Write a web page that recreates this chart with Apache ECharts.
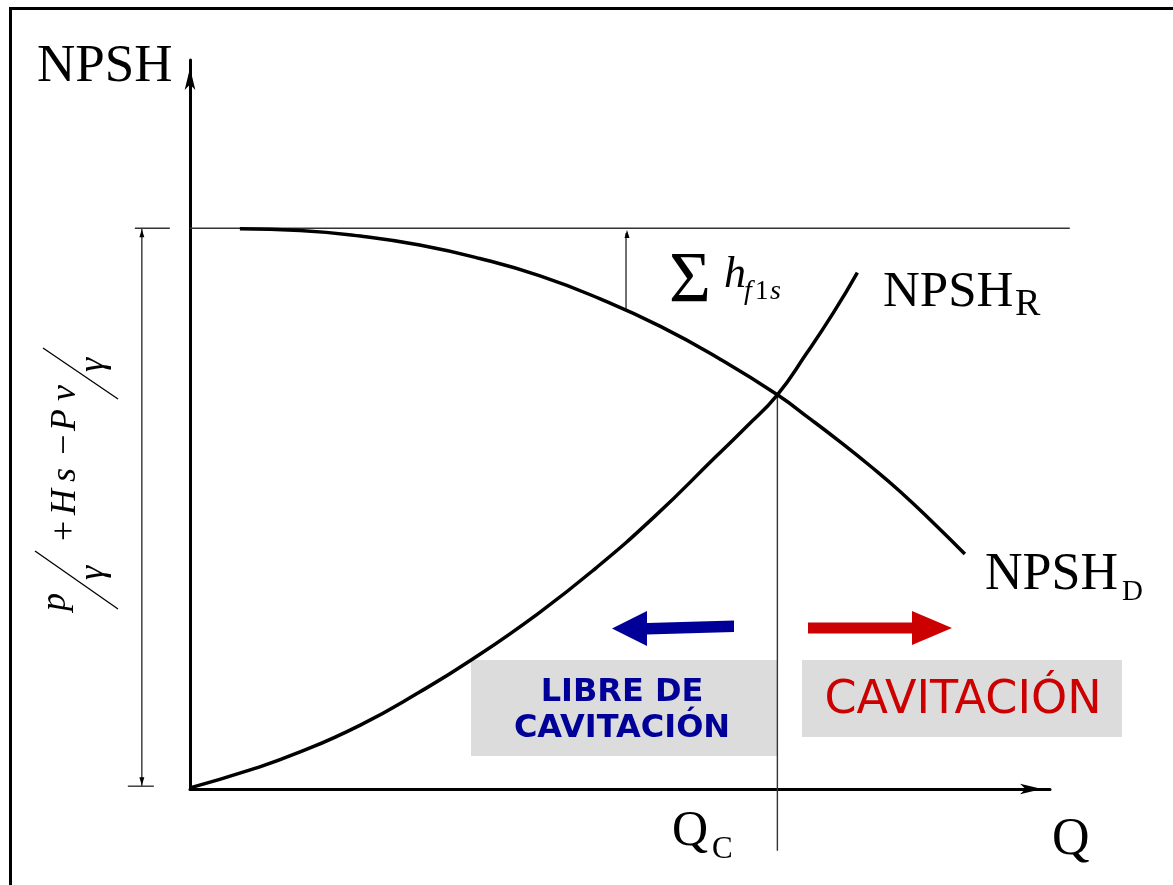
<!DOCTYPE html>
<html>
<head>
<meta charset="utf-8">
<script src="https://cdn.jsdelivr.net/npm/echarts@6/dist/echarts.min.js"></script>
<style>
  html, body { margin: 0; padding: 0; background: #fff; }
  #chart { width: 1173px; height: 885px; }
</style>
</head>
<body>
<div id="chart"></div>
<script>
// NPSH available on the suction side (NPSH_D) against flow Q
const npshD_Q = [5.8, 12.8, 19.8, 26.7, 33.7, 40.7, 47.7, 54.7, 61.6, 68.3, 72.1, 75.6, 79.1, 82.6, 86.6, 90.1];
const npshD_H = [9.99, 9.96, 9.86, 9.70, 9.46, 9.15, 8.74, 8.25, 7.67, 7.03, 6.60, 6.19, 5.76, 5.30, 4.72, 4.19];
// NPSH required by the pump (NPSH_R)
const npshR_Q = [0, 7.0, 12.8, 19.8, 26.7, 32.7, 40.4, 47.2, 54.1, 61.1, 64.7, 68.3, 71.7, 74.8, 77.6];
const npshR_H = [0.02, 0.34, 0.66, 1.14, 1.73, 2.30, 3.12, 3.94, 4.87, 5.92, 6.46, 7.03, 7.77, 8.49, 9.21];
// static head p/γ + Hs − Pv/γ, and the cavitation flow Qc where both curves meet
const staticHead = 10;
const Qc = 68.3;
const Hc = 7.03;
// flow at which the suction friction loss Σhf1s is dimensioned
const lossQ = 50.7;
const lossTopH = 9.91;
const lossCurveH = 8.53;
// axis extents
const qMax = 100;
const hMax = 13;

const zip = (xs, ys) => xs.map((x, i) => [x, ys[i]]);

const chart = echarts.init(document.getElementById('chart'), null, { renderer: 'canvas' });

const SERIF = '"Liberation Serif", "Times New Roman", serif';
const SANS = '"DejaVu Sans", Verdana, sans-serif';

function thinLine(data) {
  return {
    type: 'line', data: data, clip: false, symbol: 'none', silent: true,
    lineStyle: { color: '#333', width: 1.4 }, z: 3
  };
}

const axisCommon = {
  type: 'value',
  axisLine: {
    show: true, onZero: false,
    symbol: ['none', 'arrow'], symbolSize: [8, 22], symbolOffset: [0, -8],
    lineStyle: { color: '#000', width: 3 }
  },
  axisTick: { show: false }, axisLabel: { show: false }, splitLine: { show: false }
};

chart.setOption({
  backgroundColor: '#fff',
  animation: false,
  grid: { left: 190, right: 123, top: 60, bottom: 96, containLabel: false },
  xAxis: Object.assign({ min: 0, max: qMax }, axisCommon),
  yAxis: Object.assign({ min: 0, max: hMax }, axisCommon),
  series: [
    // friction loss dimension
    thinLine([[lossQ, lossTopH], [lossQ, lossCurveH]]),
    // cavitation flow
    thinLine([[Qc, Hc], [Qc, -1.1]]),
    {
      name: 'NPSH_D', type: 'line', data: zip(npshD_Q, npshD_H),
      smooth: 0.5, symbol: 'none', clip: false,
      lineStyle: { color: '#000', width: 3.5 }, z: 5
    },
    {
      name: 'NPSH_R', type: 'line', data: zip(npshR_Q, npshR_H),
      smooth: 0.5, symbol: 'none', clip: false,
      lineStyle: { color: '#000', width: 3.5 }, z: 5
    }
  ]
});

// data -> pixel through the grid's scales
const px = (q, h) => chart.convertToPixel({ gridIndex: 0 }, [q, h]);

// serif text placed by left edge and baseline
function label(text, x, baseline, size, opts) {
  opts = opts || {};
  return {
    type: 'text', z: 10,
    style: {
      text: text, x: x, y: baseline - 0.34 * size,
      font: (opts.italic ? 'italic ' : '') + size + 'px ' + SERIF,
      fill: '#000', align: 'left', verticalAlign: 'middle'
    }
  };
}
function seg(a, b, w) {
  return { type: 'line', z: 3, shape: { x1: a[0], y1: a[1], x2: b[0], y2: b[1] },
           style: { stroke: '#333', lineWidth: w || 1.4 } };
}

// rotated dimension label  p/γ + Hs − Pv/γ  (reads bottom to top)
const fs = 36;
const fItal = 'italic ' + fs + 'px ' + SERIF;
const fUp = fs + 'px ' + SERIF;
function g(text, lx, base, font) {
  return { type: 'text', style: { text: text, x: lx, y: base - 0.34 * fs, font: font, fill: '#000', verticalAlign: 'middle' } };
}
const formula = {
  type: 'group', x: 78, y: 611, rotation: Math.PI / 2,
  children: [
    g('p', 0, -10, fItal),
    { type: 'line', shape: { x1: 2, y1: 40, x2: 60, y2: -43 }, style: { stroke: '#000', lineWidth: 1.3 } },
    g('γ', 31, 28, fItal),
    g('+', 70, 0, fUp),
    g('H', 96, 0, fItal),
    g('s', 129, 0, fItal),
    g('−', 156, 0, fUp),
    g('P', 180, 0, fItal),
    g('v', 210, 0, fItal),
    { type: 'line', shape: { x1: 212, y1: 40, x2: 263, y2: -35 }, style: { stroke: '#000', lineWidth: 1.3 } },
    g('γ', 239, 28, fItal)
  ]
};

// static head level and its dimension left of the axis
const headL = px(0, staticHead), headR = px(102.3, staticHead);
const dimTop = px(-5.6, staticHead), dimBot = px(-5.6, 0.05);

chart.setOption({
  graphic: {
    elements: [
      // frame
      { type: 'rect', z: 0, shape: { x: 10.5, y: 8.5, width: 1300, height: 1000 },
        style: { fill: 'none', stroke: '#000', lineWidth: 3 } },
      seg(headL, headR),
      seg(dimTop, dimBot),
      seg([dimTop[0] - 7, dimTop[1]], [dimTop[0] + 28, dimTop[1]]),
      seg([dimBot[0] - 14, dimBot[1]], [dimBot[0] + 12, dimBot[1]]),
      // region boxes
      { type: 'rect', z: 0, shape: { x: 471, y: 660, width: 306, height: 96 }, style: { fill: '#dcdcdc' } },
      { type: 'rect', z: 0, shape: { x: 802, y: 660, width: 320, height: 77 }, style: { fill: '#dcdcdc' } },
      // region arrows
      { type: 'polygon', z: 1,
        shape: { points: [[734, 620.5], [647, 623], [647, 611], [612, 628.5], [647, 646], [647, 634.5], [734, 632]] },
        style: { fill: '#000099' } },
      { type: 'polygon', z: 1,
        shape: { points: [[808, 622.5], [912, 622.5], [912, 611], [952, 628], [912, 645], [912, 633.5], [808, 633.5]] },
        style: { fill: '#cc0000' } },
      // small arrowheads on the dimension lines
      { type: 'polygon', z: 4, shape: { points: [[dimTop[0], dimTop[1] + 1], [dimTop[0] - 2.5, dimTop[1] + 9], [dimTop[0] + 2.5, dimTop[1] + 9]] }, style: { fill: '#000' } },
      { type: 'polygon', z: 4, shape: { points: [[dimBot[0], dimBot[1] - 1], [dimBot[0] - 2.5, dimBot[1] - 9], [dimBot[0] + 2.5, dimBot[1] - 9]] }, style: { fill: '#000' } },
      { type: 'polygon', z: 4, shape: { points: [[627, 230], [624.5, 238], [629.5, 238]] }, style: { fill: '#000' } },
      // box texts
      { type: 'text', z: 10, style: { text: 'LIBRE DE', x: 622, y: 692.5, font: 'bold 32px ' + SANS, fill: '#000099', align: 'center', verticalAlign: 'middle' } },
      { type: 'text', z: 10, style: { text: 'CAVITACIÓN', x: 622, y: 728.5, font: 'bold 32px ' + SANS, fill: '#000099', align: 'center', verticalAlign: 'middle' } },
      { type: 'text', z: 10, style: { text: 'CAVITACIÓN', x: 963, y: 701.5, font: '46px ' + SANS, fill: '#cc0000', align: 'center', verticalAlign: 'middle' } },
      // axis and curve labels
      label('NPSH', 37, 85, 53),
      label('NPSH', 883, 310, 51),
      label('R', 1015, 318, 38),
      label('NPSH', 985, 593, 52),
      label('D', 1122, 602, 29),
      label('Q', 672, 849, 50),
      label('C', 712, 860, 31),
      label('Q', 1052, 858, 52),
      label('Σ', 669, 307, 72),
      label('h', 724, 290, 44, { italic: true }),
      label('f', 744, 301, 28, { italic: true }),
      label('1', 755, 301, 27),
      label('s', 770, 301, 28, { italic: true }),
      formula
    ]
  }
});
</script>
</body>
</html>
